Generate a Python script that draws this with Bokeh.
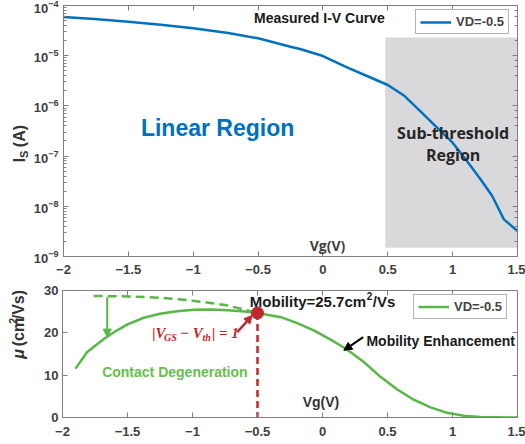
from bokeh.plotting import figure
from bokeh.models import (Range1d, LinearAxis, LogAxis, FixedTicker, LogTicker, Label,
                          Arrow, NormalHead, Legend, LegendItem)
from bokeh.core.properties import value
from bokeh.layouts import column, row
from bokeh.embed import file_html
from bokeh.resources import INLINE

# ---------------- data ----------------
vg_iv = [-2.0, -1.76, -1.5, -1.25, -1.0, -0.73, -0.5, -0.25, -0.17, 0.0, 0.19, 0.34, 0.5,
         0.63, 0.75, 0.88, 1.0, 1.11, 1.215, 1.305, 1.395, 1.5]
is_iv = [5.9e-5, 5.38e-5, 4.75e-5, 4.15e-5, 3.51e-5, 2.83e-5, 2.22e-5, 1.51e-5, 1.34e-5,
         9.86e-6, 5.77e-6, 3.94e-6, 2.61e-6, 1.57e-6, 7.9e-7, 3.68e-7, 1.85e-7, 7.98e-8,
         3.45e-8, 1.6e-8, 5.5e-9, 3.2e-9]

vg_mu = [-1.9, -1.81, -1.68, -1.58, -1.5, -1.375, -1.25, -1.12, -0.99, -0.86, -0.73, -0.6,
         -0.5, -0.32, -0.195, -0.067, 0.062, 0.177, 0.318, 0.446, 0.575, 0.702, 0.831, 0.959,
         1.087, 1.215, 1.5]
mu = [11.55, 15.46, 18.6, 20.6, 22.0, 23.57, 24.5, 25.1, 25.45, 25.5, 25.36, 25.05,
      24.7, 23.7, 22.3, 20.6, 18.4, 16.3, 13.1, 9.6, 6.6, 4.2, 2.4, 1.1, 0.4, 0.1, 0.0]

vg_fit = [-1.76, -1.5, -1.25, -1.0, -0.75, -0.5]
mu_fit = [28.7, 28.6, 28.3, 27.6, 26.6, 24.7]

vg_peak = [-0.5]
mu_peak = [24.7]

sub_left, sub_right = [0.48], [1.5]
sub_bottom, sub_top = [1.5e-9], [2.3e-5]

x_ticks = [-2, -1.5, -1, -0.5, 0, 0.5, 1, 1.5]
mu_ticks = [0, 10, 20, 30]
legend_label = "VD=-0.5"

# ---------------- style ----------------
BLUE = "#0072bd"
GREEN = "#57b847"
GREEN_TXT = "#66bf4d"
RED = "#c0282d"
AXIS = "#7f7f7f"
TICKLBL = "#404040"
FONT = "Liberation Sans"
CAL = "Open Sans"
LW = 30  # width of the y-label strip


def style_axis(ax, labels=True, standoff=5, minor=False):
    ax.axis_line_color = AXIS
    ax.axis_line_width = 1
    ax.major_tick_line_color = AXIS
    ax.major_tick_in = 5
    ax.major_tick_out = 0
    if minor:
        ax.minor_tick_line_color = AXIS
        ax.minor_tick_in = 3
        ax.minor_tick_out = 0
    else:
        ax.minor_tick_line_color = None
    if labels:
        ax.major_label_text_font = FONT
        ax.major_label_text_font_style = "bold"
        ax.major_label_text_font_size = "13px"
        ax.major_label_text_color = TICKLBL
        ax.major_label_standoff = standoff
    else:
        ax.major_label_text_font_size = "1px"
        ax.major_label_text_alpha = 0.0
        ax.major_label_standoff = 0


def lbl(fig, x, y, text, size, color="#1a1a1a", font=FONT, style="bold", align="left", xo=0):
    fig.add_layout(Label(x=x, y=y, text=text, text_font_size=f"{size}px", text_color=color,
                         text_font=font, text_font_style=style, text_align=align,
                         text_baseline="middle", x_offset=xo))


def strip(h):
    f = figure(width=LW, height=h, x_range=Range1d(0, LW), y_range=Range1d(0, h),
               output_backend="svg", toolbar_location=None, min_border=0)
    f.axis.visible = False
    f.grid.visible = False
    f.outline_line_color = None
    return f


def vtext(f, x, y, text, size, style="bold"):
    f.text(x=[x], y=[y], text=[text], angle=1.5708, text_font=value(FONT),
           text_font_style=style, text_font_size=f"{size}px", text_color="#333333",
           text_align="left", text_baseline="middle")


# ---------------- top: I-V ----------------
p1 = figure(width=525 - LW, height=280, x_range=Range1d(-2, 1.5), y_range=Range1d(1e-9, 1e-4),
            y_axis_type="log", output_backend="svg", toolbar_location=None,
            min_border_left=62 - LW, min_border_right=8, min_border_top=5, min_border_bottom=24)
p1.grid.visible = False
p1.outline_line_color = AXIS
p1.xaxis.ticker = FixedTicker(ticks=x_ticks)
style_axis(p1.xaxis[0], True, 8)
style_axis(p1.yaxis[0], True, 5, minor=True)
ax_t = LinearAxis(ticker=FixedTicker(ticks=x_ticks))
style_axis(ax_t, False)
p1.add_layout(ax_t, "above")
ax_r = LogAxis(ticker=LogTicker())
style_axis(ax_r, False, minor=True)
p1.add_layout(ax_r, "right")

p1.quad(left=sub_left, right=sub_right, bottom=sub_bottom, top=sub_top,
        fill_color="#d9d9db", line_color=None)
l1 = p1.line(vg_iv, is_iv, line_color=BLUE, line_width=2.5)

leg1 = Legend(items=[LegendItem(label=legend_label, renderers=[l1])], location=(352, 222),
              margin=0, padding=4, spacing=0, glyph_width=31, glyph_height=12, label_height=12,
              label_standoff=5, label_text_font=FONT, label_text_font_style="bold",
              label_text_font_size="13px", border_line_color="#666666",
              background_fill_alpha=1.0)
p1.add_layout(leg1)

lbl(p1, -0.531, 5.64e-5, "Measured I-V Curve", 14)
lbl(p1, -0.812, 3.63e-7, "Linear Region", 23, color="#0070c0", align="center")
lbl(p1, 1.004, 2.92e-7, "Sub-threshold", 16, color="#262626", font=CAL, align="center")
lbl(p1, 1.004, 1.05e-7, "Region", 16, color="#262626", font=CAL, align="center")
lbl(p1, 0.035, 1.69e-9, "Vg(V)", 14, color="#404040", font=CAL, align="center")

s1 = strip(280)
vtext(s1, 19, 105, "I", 16)
vtext(s1, 23, 110, "S", 11)
vtext(s1, 19, 122, "(A)", 16)

# ---------------- bottom: mobility ----------------
p2 = figure(width=525 - LW, height=164, x_range=Range1d(-2, 1.5), y_range=Range1d(0, 30),
            output_backend="svg", toolbar_location=None,
            min_border_left=62 - LW, min_border_right=8, min_border_top=10, min_border_bottom=27)
p2.grid.visible = False
p2.outline_line_color = AXIS
p2.xaxis.ticker = FixedTicker(ticks=x_ticks)
p2.yaxis.ticker = FixedTicker(ticks=mu_ticks)
style_axis(p2.xaxis[0], True, 9)
style_axis(p2.yaxis[0], True, 4)
ax_t2 = LinearAxis(ticker=FixedTicker(ticks=x_ticks))
style_axis(ax_t2, False)
p2.add_layout(ax_t2, "above")
ax_r2 = LinearAxis(ticker=FixedTicker(ticks=mu_ticks))
style_axis(ax_r2, False)
p2.add_layout(ax_r2, "right")

l2 = p2.line(vg_mu, mu, line_color=GREEN, line_width=2.5)
p2.line(vg_fit, mu_fit, line_color=GREEN, line_width=2.5, line_dash="9 5")
p2.segment(x0=vg_peak, y0=mu_peak, x1=vg_peak, y1=[0], line_color=RED, line_width=2.5,
           line_dash="7 4")
p2.scatter(vg_peak, mu_peak, size=12, color=RED)

p2.add_layout(Arrow(end=NormalHead(size=8, fill_color=GREEN, line_color=GREEN),
                    x_start=-1.656, y_start=28.4, x_end=-1.656, y_end=19.0,
                    line_color=GREEN, line_width=2))
p2.add_layout(Arrow(end=NormalHead(size=8, fill_color=RED, line_color=RED),
                    x_start=-0.656, y_start=20.17, x_end=-0.541, y_end=24.1,
                    line_color=RED, line_width=2.5))
p2.add_layout(Arrow(end=NormalHead(size=8, fill_color="black", line_color="black"),
                    x_start=0.313, y_start=19.0, x_end=0.164, y_end=15.86,
                    line_color="black", line_width=2))

leg2 = Legend(items=[LegendItem(label=legend_label, renderers=[l2])], location=(351, 98),
              margin=0, padding=4, spacing=0, glyph_width=31, glyph_height=11, label_height=11,
              label_standoff=5, label_text_font=FONT, label_text_font_style="bold",
              label_text_font_size="13px", border_line_color="#666666",
              background_fill_alpha=1.0)
p2.add_layout(leg2)

lbl(p2, -0.559, 27.48, "Mobility=25.7cm", 15)
lbl(p2, -0.559, 28.6, "2", 10, xo=117)
lbl(p2, -0.559, 27.48, "/Vs", 15, xo=123)
lbl(p2, 0.338, 18.05, "Mobility Enhancement", 14)
lbl(p2, -1.695, 10.75, "Contact Degeneration", 14, color=GREEN_TXT)
lbl(p2, -0.0115, 3.6, "Vg(V)", 14, color="#333333", align="center")

SERIF = "Liberation Serif"
lbl(p2, -1.310, 19.87, "|V", 15, color=RED, font=SERIF, style="bold italic")
lbl(p2, -1.219, 18.93, "GS", 10, color=RED, font=SERIF, style="bold italic")
lbl(p2, -1.096, 19.87, "\u2212 V", 15, color=RED, font=SERIF, style="bold italic")
lbl(p2, -0.923, 18.93, "th", 10, color=RED, font=SERIF, style="bold italic")
lbl(p2, -0.850, 19.87, "| = 1", 15, color=RED, font=SERIF, style="bold italic")

s2 = strip(164)
vtext(s2, 18, 76, "\u03bc", 16, style="bold italic")
vtext(s2, 18, 92, "(cm", 16)
vtext(s2, 12, 120.6, "2", 11)
vtext(s2, 18, 126.8, "/Vs)", 16)

layout = column(row(s1, p1, spacing=0), row(s2, p2, spacing=0), spacing=0)

open("out.html", "w").write(file_html(layout, INLINE))
